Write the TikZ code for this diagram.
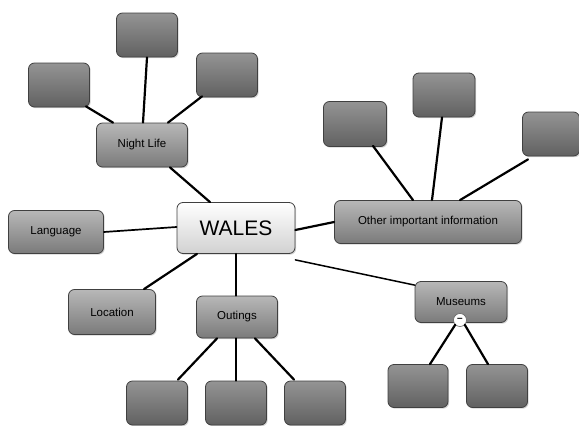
\documentclass[tikz,border=0pt]{standalone}
\usepackage{fontspec}
\setmainfont{Liberation Sans}
\usetikzlibrary{shadows}
\tikzset{
	mapbox/.style={draw=black!75, line width=0.8pt, rounded corners=6pt, inner sep=0pt,
		drop shadow={shadow xshift=1.2pt, shadow yshift=-1.2pt, opacity=0.35}},
	blankbox/.style={mapbox, minimum width=61pt, minimum height=44pt,
		top color=black!42, middle color=black!55, bottom color=black!62},
	topicbox/.style={mapbox, minimum height=43pt, font=\fontsize{11.5}{13}\selectfont,
		top color=black!28, middle color=black!40, bottom color=black!52},
	link/.style={line width=2.2pt, line cap=round},
}
\begin{document}
\begin{tikzpicture}[x=1pt,y=-1pt]
			%%%%% START %%%%%
			\useasboundingbox (0,0) rectangle (579,426);
			
			% centre
			\node[mapbox, minimum width=118pt, minimum height=51pt, top color=white, bottom color=black!18,
				font=\fontsize{21}{24}\selectfont] (wales) at (236,228) {WALES};
			
			% night life
			\node[topicbox, minimum width=91pt, minimum height=44pt] (nightlife) at (142,145) {Night Life};
			\node[blankbox] (nightA) at (59,85) {};
			\node[blankbox] (nightB) at (147,35) {};
			\node[blankbox] (nightC) at (227,75) {};
			
			% left side
			\node[topicbox, minimum width=95pt] (language) at (56,232) {Language};
			\node[topicbox, minimum width=87pt, minimum height=45pt] (location) at (112,312) {Location};
			
			% outings
			\node[topicbox, minimum width=81pt, minimum height=42pt] (outings) at (237,317) {Outings};
			\node[blankbox] (outA) at (157,403) {};
			\node[blankbox] (outB) at (236,403) {};
			\node[blankbox] (outC) at (315,403) {};
			
			% other information
			\node[topicbox, minimum width=187pt] (other) at (428,222) {Other important information};
			\node[blankbox, minimum width=63pt, minimum height=45pt] (otherA) at (355,124) {};
			\node[blankbox, minimum width=62pt] (otherB) at (444,95) {};
			\node[blankbox, minimum width=57pt] (otherC) at (551,134) {};
			
			% museums
			\node[topicbox, minimum width=92pt, minimum height=41pt] (museums) at (461,302) {Museums};
			\node[blankbox, minimum width=60pt, minimum height=43pt] (musA) at (418,386) {};
			\node[blankbox, minimum width=61pt, minimum height=43pt] (musB) at (497,386) {};
			
			% links
			\draw[link] ([xshift=-29pt]nightlife.north) -- ([xshift=27pt,yshift=1pt]nightA.south);
			\draw[link] ([xshift=1pt]nightlife.north) -- (nightB.south);
			\draw[link] ([xshift=26pt]nightlife.north) -- ([xshift=-25pt,yshift=1pt]nightC.south);
			\draw[link] ([xshift=28pt]nightlife.south) -- ([xshift=-26pt]wales.north);
			
			\draw[link, line width=1.7pt] (language.east) -- ([yshift=1pt]wales.west);
			\draw[link] ([xshift=32pt]location.north) -- ([xshift=-39pt]wales.south);
			\draw[link] (wales.south) -- ([xshift=-1pt]outings.north);
			
			\draw[link] ([xshift=-20pt]outings.south) -- ([xshift=21pt,yshift=1pt]outA.north);
			\draw[link] ([xshift=-1pt]outings.south) -- (outB.north);
			\draw[link] ([xshift=18pt]outings.south) -- ([xshift=-21pt,yshift=1pt]outC.north);
			
			\draw[link] ([yshift=-2pt]wales.east) -- (other.west);
			\draw[link] ([xshift=-15pt]other.north) -- ([xshift=18pt,yshift=1pt]otherA.south);
			\draw[link] ([xshift=4pt]other.north) -- ([xshift=-2pt]otherB.south);
			\draw[link] ([xshift=32pt]other.north) -- ([xshift=-23pt,yshift=-3pt]otherC.south);
			
			\draw[link, line width=1.5pt] ([yshift=-6pt]wales.south east) -- ([yshift=-4pt]museums.north west);
			\node[circle, draw=black!60, fill=white, line width=0.6pt, minimum size=13pt, inner sep=0pt,
				font=\bfseries\fontsize{10}{10}\selectfont] (musfold) at (460,320) {--};
			\draw[link] (musfold.south west) -- ([xshift=12pt]musA.north);
			\draw[link] (musfold.south east) -- ([xshift=-9pt]musB.north);
			
			%%%%% END %%%%%
\end{tikzpicture}
\end{document}
